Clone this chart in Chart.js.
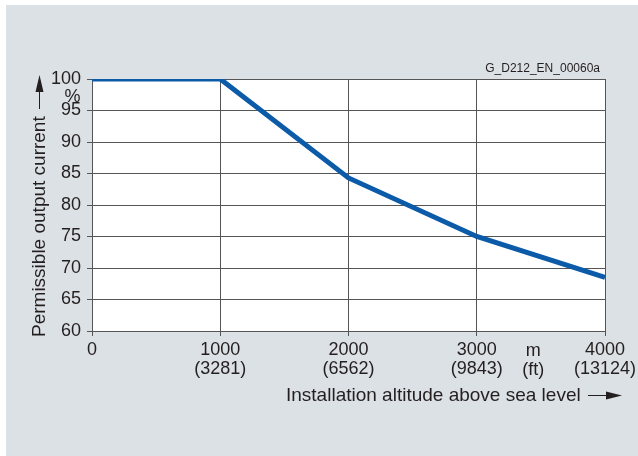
<!DOCTYPE html>
<html>
<head>
<meta charset="utf-8">
<script src="https://cdn.jsdelivr.net/npm/chart.js@4"></script>
<style>
  html, body { margin: 0; padding: 0; background: #fff; }
  #wrap { width: 638px; height: 456px; position: relative; }
</style>
</head>
<body>
<div id="wrap"><canvas id="chart" width="638" height="456"></canvas></div>
<script>
const altitudeM = [0, 1000, 2000, 3000, 4000];
const outputPct = [100, 100, 84.3, 75, 68.5];
const xTickValues = [0, 1000, 2000, 3000, 4000];
const xTickFeet = ['', '(3281)', '(6562)', '(9843)', '(13124)'];
const yTickValues = [60, 65, 70, 75, 80, 85, 90, 95, 100];

const FONT = "'Liberation Sans', Arial, Helvetica, sans-serif";
const INK = '#231f20';
const GRID = '#555555';

const decorations = {
  id: 'decorations',
  beforeDraw(chart) {
    const { ctx, chartArea: a } = chart;
    ctx.save();
    ctx.fillStyle = '#dce1e5';
    ctx.fillRect(6, 5, chart.width - 6, chart.height - 5);
    ctx.fillStyle = '#ffffff';
    ctx.fillRect(a.left, a.top, a.right - a.left, a.bottom - a.top);
    ctx.restore();
  },
  afterDraw(chart) {
    const { ctx } = chart;
    const xs = chart.scales.x;
    ctx.save();
    ctx.fillStyle = INK;
    ctx.strokeStyle = INK;
    ctx.lineWidth = 1;

    // unit under the 100 tick
    ctx.font = `18px ${FONT}`;
    ctx.textAlign = 'center';
    ctx.textBaseline = 'middle';
    ctx.fillText('%', 72.5, 97);

    // m / (ft) unit label between 3000 and 4000
    const ux = xs.getPixelForValue(3440);
    ctx.fillText('m', ux, 351);
    ctx.fillText('(ft)', ux, 370);

    // x axis title with arrow
    ctx.font = `19px ${FONT}`;
    ctx.textAlign = 'left';
    ctx.fillText('Installation altitude above sea level', 286, 396);
    ctx.beginPath();
    ctx.moveTo(588, 395.5);
    ctx.lineTo(608, 395.5);
    ctx.stroke();
    ctx.beginPath();
    ctx.moveTo(622, 395.5);
    ctx.lineTo(606, 391.5);
    ctx.lineTo(606, 399.5);
    ctx.closePath();
    ctx.fill();

    // y axis title, rotated, with arrow
    ctx.save();
    ctx.translate(45, 337);
    ctx.rotate(-Math.PI / 2);
    ctx.textAlign = 'left';
    ctx.textBaseline = 'alphabetic';
    ctx.fillText('Permissible output current', 0, 0);
    ctx.restore();
    ctx.beginPath();
    ctx.moveTo(39.5, 109);
    ctx.lineTo(39.5, 90);
    ctx.stroke();
    ctx.beginPath();
    ctx.moveTo(39.5, 75);
    ctx.lineTo(35.5, 92);
    ctx.lineTo(43.5, 92);
    ctx.closePath();
    ctx.fill();

    // drawing reference
    ctx.font = `12px ${FONT}`;
    ctx.textAlign = 'right';
    ctx.textBaseline = 'middle';
    ctx.fillText('G_D212_EN_00060a', 600, 69);
    ctx.restore();
  }
};

new Chart(document.getElementById('chart'), {
  type: 'line',
  data: {
    datasets: [{
      data: altitudeM.map((x, i) => ({ x, y: outputPct[i] })),
      borderColor: '#0b5ba8',
      borderWidth: 5,
      borderJoinStyle: 'miter',
      pointRadius: 0,
      tension: 0,
      fill: false
    }]
  },
  options: {
    responsive: false,
    animation: false,
    devicePixelRatio: 1,
    layout: { padding: { top: 79, right: 33, left: 0, bottom: 0 } },
    plugins: { legend: { display: false }, tooltip: { enabled: false } },
    scales: {
      x: {
        type: 'linear',
        min: 0,
        max: 4000,
        afterBuildTicks(scale) { scale.ticks = xTickValues.map((value) => ({ value })); },
        afterFit(scale) {
          scale.height = 125;
          scale.paddingLeft = 0;
          scale.paddingRight = 0;
        },
        ticks: {
          autoSkip: false,
          maxRotation: 0,
          padding: 4,
          color: INK,
          font: { family: FONT, size: 18, lineHeight: 1.07 },
          callback(value) {
            const i = xTickValues.indexOf(value);
            return xTickFeet[i] ? [String(value), xTickFeet[i]] : String(value);
          }
        },
        grid: { color: GRID, lineWidth: 1, tickLength: 5 },
        border: { display: true, color: GRID }
      },
      y: {
        min: 60,
        max: 100,
        afterBuildTicks(scale) { scale.ticks = yTickValues.map((value) => ({ value })); },
        afterFit(scale) {
          scale.width = 92;
          scale.paddingTop = 0;
          scale.paddingBottom = 0;
        },
        ticks: {
          padding: 6,
          color: INK,
          font: { family: FONT, size: 18 }
        },
        grid: { color: GRID, lineWidth: 1, tickLength: 5 },
        border: { display: true, color: GRID }
      }
    }
  },
  plugins: [decorations]
});
</script>
</body>
</html>
